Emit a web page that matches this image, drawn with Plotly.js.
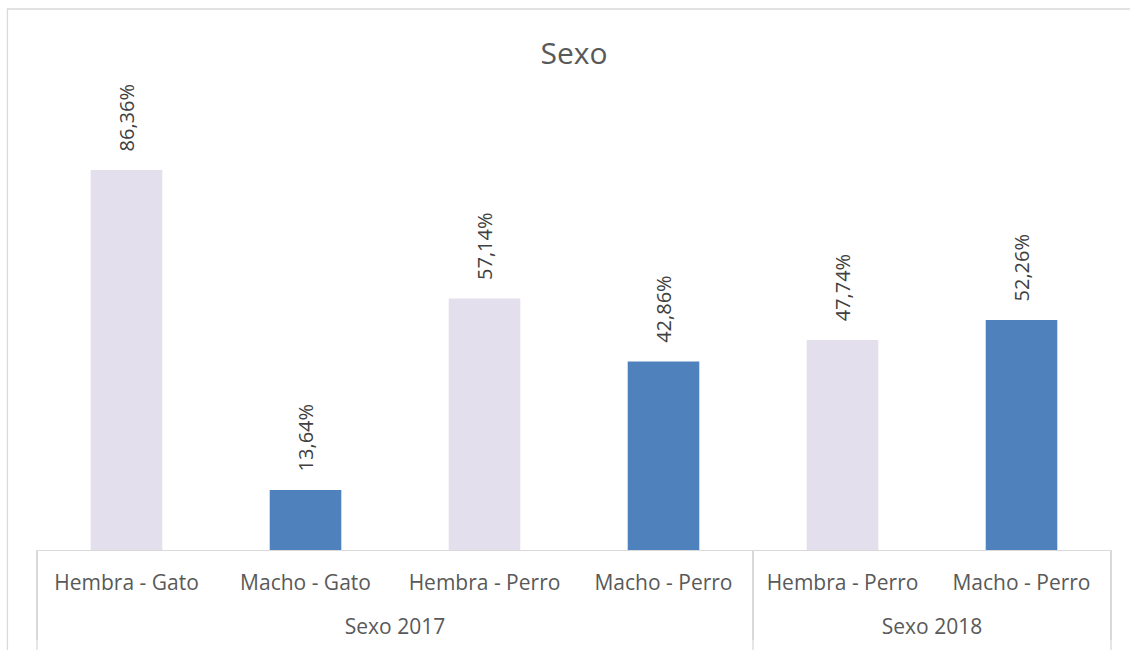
<!DOCTYPE html>
<html>
<head>
<meta charset="utf-8">
<script src="https://cdn.plot.ly/plotly-3.0.1.min.js"></script>
<style>html,body{margin:0;padding:0;background:#fff;}#chart{width:1130px;height:650px;}</style>
</head>
<body>
<div id="chart"></div>
<script>
const groups = ["Sexo 2017", "Sexo 2017", "Sexo 2017", "Sexo 2017", "Sexo 2018", "Sexo 2018"];
const categories = ["Hembra - Gato", "Macho - Gato", "Hembra - Perro", "Macho - Perro", "Hembra - Perro", "Macho - Perro"];
const values = [86.36, 13.64, 57.14, 42.86, 47.74, 52.26];

const colorFor = c => c.startsWith("Hembra") ? "#E4DFEC" : "#4F81BD";
const fmt = v => "\u00a0\u00a0\u00a0" + v.toFixed(2).replace(".", ",") + "%";

const trace = {
  type: "bar",
  x: [groups.map(g => "<br>" + g), categories],
  y: values,
  marker: {color: categories.map(colorFor)},
  text: values.map(fmt),
  textposition: "outside",
  textangle: -90,
  constraintext: "none",
  cliponaxis: false,
  textfont: {family: "Open Sans, Noto Sans, sans-serif", size: 20, color: "#404040"},
  hoverinfo: "none"
};

const layout = {
  width: 1130, height: 650,
  margin: {l: 37, r: 19, t: 110, b: 100},
  paper_bgcolor: "#fff", plot_bgcolor: "#fff",
  showlegend: false,
  bargap: 0.6,
  title: {text: "Sexo", xref: "paper", x: 0.5, xanchor: "center", y: 0.918, yanchor: "middle",
          font: {family: "Open Sans, Noto Sans, sans-serif", size: 30, color: "#595959"}},
  xaxis: {
    type: "multicategory",
    showline: true, linecolor: "#d9d9d9", linewidth: 1.3,
    showdividers: true, dividercolor: "#d9d9d9", dividerwidth: 1.3,
    ticks: "",
    ticklabelstandoff: 13,
    tickfont: {family: "Open Sans, Noto Sans, sans-serif", size: 21, color: "#595959"},
    showgrid: false, zeroline: false
  },
  yaxis: {range: [0, 100], visible: false, showgrid: false, zeroline: false},
  shapes: [
    {type: "rect", xref: "paper", yref: "paper", x0: -0.0275, x1: 1.2, y0: -0.6, y1: 1.2295,
     line: {color: "#d9d9d9", width: 1.3}, fillcolor: "rgba(0,0,0,0)", layer: "below"}
  ].concat([0, 4 / 6, 1].map(px => ({
    type: "line", xref: "paper", yref: "paper", x0: px, x1: px, y0: 0, y1: -0.3,
    line: {color: "#d9d9d9", width: 1.3}
  })))
};

Plotly.newPlot("chart", [trace], layout, {displayModeBar: false, staticPlot: true});
</script>
</body>
</html>
